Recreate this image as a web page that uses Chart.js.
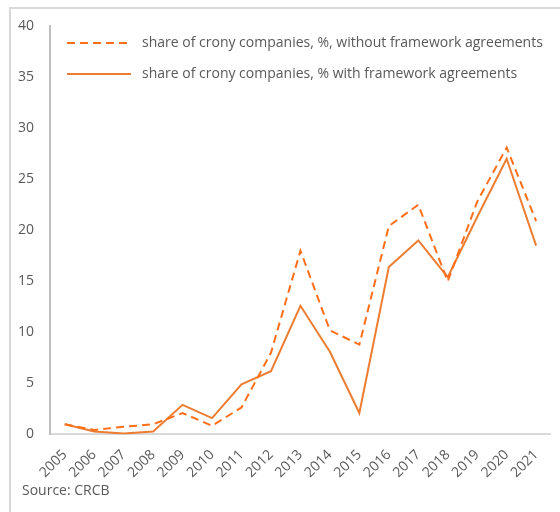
<!DOCTYPE html>
<html>
<head>
<meta charset="utf-8">
<script src="https://cdn.jsdelivr.net/npm/chart.js@4"></script>
<style>
  html, body { margin: 0; padding: 0; background: #fff; }
  #frame {
    position: absolute; left: 9px; top: 7px; width: 560px; height: 520px;
    border-left: 2px solid #d9d9d9; border-top: 2px solid #d9d9d9;
  }
  #wrap { position: absolute; left: 0; top: 0; width: 560px; height: 512px; }
  #source {
    position: absolute; left: 22px; top: 480px;
    font: 14px "Open Sans", sans-serif; color: #595959;
  }
</style>
</head>
<body>
<div id="frame"></div>
<div id="wrap"><canvas id="chart" width="560" height="512"></canvas></div>
<div id="source">Source: CRCB</div>
<script>
const years = ["2005", "2006", "2007", "2008", "2009", "2010", "2011", "2012", "2013",
  "2014", "2015", "2016", "2017", "2018", "2019", "2020", "2021"];
const withoutFramework = [1.0, 0.45, 0.75, 1.0, 2.1, 0.85, 2.65, 8.0, 18.0,
  10.2, 8.8, 20.4, 22.5, 15.0, 22.8, 28.1, 20.9];
const withFramework = [1.0, 0.3, 0.1, 0.3, 2.9, 1.6, 4.9, 6.2, 12.6,
  8.1, 2.1, 16.4, 19.0, 15.4, 21.3, 27.0, 18.5];
const yTicks = [0, 5, 10, 15, 20, 25, 30, 35, 40];

const textColor = "#595959";
const font = "'Open Sans', sans-serif";

// legend drawn inside the plot, top left
const legendPlugin = {
  id: "insideLegend",
  afterDraw(chart) {
    const ctx = chart.ctx;
    const x0 = chart.chartArea.left + 17;
    const rows = [
      { y: 43, dash: [8, 5], color: "#FF6F1A", label: "share of crony companies, %, without framework agreements" },
      { y: 74, dash: [], color: "#ED7D31", label: "share of crony companies, % with framework agreements" }
    ];
    ctx.save();
    rows.forEach(r => {
      ctx.strokeStyle = r.color;
      ctx.lineWidth = 2;
      ctx.setLineDash(r.dash);
      ctx.beginPath();
      ctx.moveTo(x0, r.y);
      ctx.lineTo(x0 + 64, r.y);
      ctx.stroke();
      ctx.setLineDash([]);
      ctx.fillStyle = textColor;
      ctx.font = "14px " + font;
      ctx.textBaseline = "middle";
      ctx.fillText(r.label, x0 + 75, r.y);
    });
    ctx.restore();
  }
};

new Chart(document.getElementById("chart"), {
  type: "line",
  data: {
    labels: years,
    datasets: [{
      label: "share of crony companies, %, without framework agreements",
      data: withoutFramework,
      borderColor: "#FF6F1A",
      borderWidth: 2,
      borderDash: [8, 5],
      pointRadius: 0,
      tension: 0
    }, {
      label: "share of crony companies, % with framework agreements",
      data: withFramework,
      borderColor: "#ED7D31",
      borderWidth: 2,
      pointRadius: 0,
      tension: 0
    }]
  },
  options: {
    responsive: false,
    animation: false,
    layout: { padding: { left: 2, right: 0, top: 26, bottom: 19 } },
    plugins: { legend: { display: false }, tooltip: { enabled: false } },
    scales: {
      x: {
        offset: true,
        grid: { display: false, drawTicks: false },
        border: { color: "#d9d9d9", width: 2 },
        ticks: { color: textColor, font: { family: font, size: 14 }, minRotation: 45, maxRotation: 45, padding: 12, autoSkip: false }
      },
      y: {
        min: 0, max: 40,
        afterBuildTicks: axis => { axis.ticks = yTicks.map(v => ({ value: v })); },
        grid: { display: false, drawTicks: false },
        border: { color: "#bfbfbf", width: 2 },
        ticks: { color: textColor, font: { family: font, size: 14 }, padding: 16 }
      }
    }
  },
  plugins: [legendPlugin]
});
</script>
</body>
</html>
